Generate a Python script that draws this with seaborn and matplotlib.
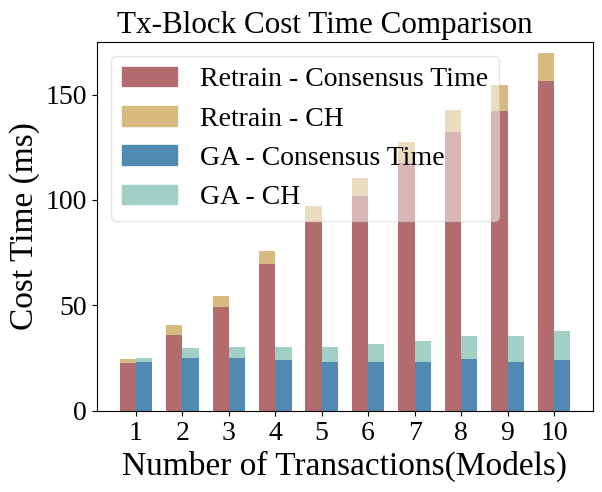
import matplotlib
matplotlib.use("Agg")
import matplotlib.pyplot as plt
from matplotlib.patches import Patch
import seaborn as sns
import pandas as pd

plt.rcParams['font.family'] = ['Liberation Serif', 'DejaVu Serif']

transactions = ["1", "2", "3", "4", "5", "6", "7", "8", "9", "10"]
retrain_consensus = [22.9, 36.0, 49.4, 69.6, 89.5, 101.7, 117.4, 132.0, 142.0, 156.2]
retrain_ch = [1.7, 4.7, 5.0, 6.1, 7.5, 8.6, 9.9, 10.9, 12.3, 13.4]
ga_consensus = [23.2, 25.1, 25.1, 24.2, 23.2, 23.2, 23.2, 24.6, 23.2, 24.2]
ga_ch = [1.9, 4.7, 5.2, 6.1, 7.1, 8.5, 9.9, 10.9, 12.3, 13.7]

groups = ["Retrain", "GA"]
col_cons = ["#b26b6e", "#508ab2"]
col_ch = ["#d6ba80", "#a2d0c6"]

rows = []
for i, t in enumerate(transactions):
    rows.append(dict(x=t, group="Retrain", cons=retrain_consensus[i],
                     total=retrain_consensus[i] + retrain_ch[i]))
    rows.append(dict(x=t, group="GA", cons=ga_consensus[i],
                     total=ga_consensus[i] + ga_ch[i]))
df = pd.DataFrame(rows)

fig = plt.figure(figsize=(6.02, 4.92), dpi=100)
ax = fig.add_axes([0.161, 0.165, 0.824, 0.750])

sns.barplot(data=df, x="x", y="total", hue="group", hue_order=groups,
            palette=col_ch, width=0.7, saturation=1, errorbar=None,
            linewidth=0, legend=False, ax=ax)
sns.barplot(data=df, x="x", y="cons", hue="group", hue_order=groups,
            palette=col_cons, width=0.7, saturation=1, errorbar=None,
            linewidth=0, legend=False, ax=ax)

ax.set_xlim(-0.84, 9.84)
ax.set_ylim(0, 175)
ax.set_yticks([0, 50, 100, 150])
ax.tick_params(axis='both', labelsize=20)
ax.set_title("Tx-Block Cost Time Comparison", fontsize=22.4, x=0.459)
ax.set_xlabel("Number of Transactions(Models)", fontsize=24)
ax.set_ylabel("Cost Time (ms)", fontsize=24)

handles = [Patch(color=col_cons[0], label="Retrain - Consensus Time"),
           Patch(color=col_ch[0], label="Retrain - CH"),
           Patch(color=col_cons[1], label="GA - Consensus Time"),
           Patch(color=col_ch[1], label="GA - CH")]
ax.legend(handles=handles, loc="upper left", fontsize=20, framealpha=0.5)

fig.savefig("out.png", dpi=100)
